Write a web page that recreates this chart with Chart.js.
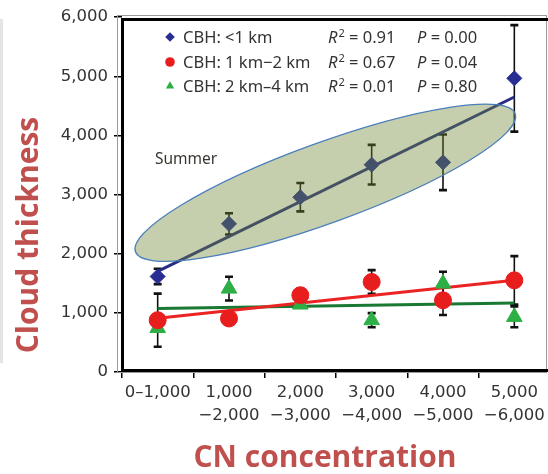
<!DOCTYPE html>
<html>
<head>
<meta charset="utf-8">
<script src="https://cdn.jsdelivr.net/npm/chart.js@4.4.1/dist/chart.umd.min.js"></script>
<style>
  html, body { margin: 0; padding: 0; background: #fff; overflow: hidden; }
  #wrap { width: 560px; height: 474px; }
</style>
</head>
<body>
<div id="wrap"><canvas id="thicknessChart"></canvas></div>
<script>
// CN concentration bins (x categories)
const cnBins = ["0–1,000", ["1,000", "−2,000"], ["2,000", "−3,000"], ["3,000", "−4,000"], ["4,000", "−5,000"], ["5,000", "−6,000"]];
const thicknessTicks = [0, 1000, 2000, 3000, 4000, 5000, 6000];

// cloud thickness per cloud-base-height class, with error bar half widths
const cbhLow = [1615, 2505, 2955, 3505, 3545, 4965];
const cbhLowErr = [130, 180, 240, 335, 470, 900];
const cbhMid = [876, 905, 1298, 1522, 1213, 1550];
const cbhMidErr = [450, 80, 110, 200, 250, 410];
const cbhHigh = [745, 1410, 1140, 876, 1495, 932];
const cbhHighErr = [0, 200, 0, 120, 200, 175];

// regression line end points (first and last bin)
const cbhLowFit = [1700, 4650];
const cbhMidFit = [910, 1550];
const cbhHighFit = [1075, 1165];

// legend text
const cbhLabels = ["CBH: <1 km", "CBH: 1 km−2 km", "CBH: 2 km–4 km"];
const r2Values = ["0.91", "0.67", "0.01"];
const pValues = ["0.00", "0.04", "0.80"];

const textColor = "#333";
const titleColor = "#c0504d";
const tickFont = { family: "'DejaVu Sans'", size: 16.5, lineHeight: 1.35 };

function fitLine(ends) {
  const arr = cnBins.map(() => null);
  arr[0] = ends[0];
  arr[arr.length - 1] = ends[1];
  return arr;
}

// error bars under the markers
const errorBars = {
  id: "errorBars",
  beforeDatasetsDraw(chart) {
    const { ctx, scales: { x, y } } = chart;
    ctx.save();
    ctx.strokeStyle = "#111";
    chart.data.datasets.forEach((ds) => {
      if (!ds.errors) return;
      ds.data.forEach((v, i) => {
        const e = ds.errors[i];
        if (!e) return;
        const px = x.getPixelForValue(i);
        const top = y.getPixelForValue(v + e);
        const bot = y.getPixelForValue(v - e);
        ctx.lineWidth = 1.6;
        ctx.beginPath();
        ctx.moveTo(px, top);
        ctx.lineTo(px, bot);
        ctx.stroke();
        ctx.lineWidth = 2.6;
        ctx.beginPath();
        ctx.moveTo(px - 4, top);
        ctx.lineTo(px + 4, top);
        ctx.moveTo(px - 4, bot);
        ctx.lineTo(px + 4, bot);
        ctx.stroke();
      });
    });
    ctx.restore();
  },
};

// shaded ellipse round the summer points
const summerEllipse = {
  id: "summerEllipse",
  afterDatasetsDraw(chart, args, opts) {
    const { ctx, scales: { x, y } } = chart;
    const cx = x.getPixelForValue(opts.xValue);
    const cy = y.getPixelForValue(opts.yValue);
    ctx.save();
    ctx.beginPath();
    ctx.ellipse(cx, cy, opts.rx, opts.ry, (opts.angle * Math.PI) / 180, 0, Math.PI * 2);
    ctx.fillStyle = "rgba(110, 135, 50, 0.4)";
    ctx.fill();
    ctx.lineWidth = 1.3;
    ctx.strokeStyle = "#4a7ebb";
    ctx.stroke();
    ctx.restore();
  },
};

// frame, legend and axis titles
const decorations = {
  id: "decorations",
  afterDraw(chart) {
    const { ctx, chartArea: area } = chart;
    ctx.save();

    // soft edge of the panel on the far left
    ctx.strokeStyle = "rgba(0, 0, 0, 0.1)";
    ctx.lineWidth = 3;
    ctx.lineCap = "round";
    ctx.beginPath();
    ctx.moveTo(1.5, 20);
    ctx.lineTo(1.5, 362);
    ctx.stroke();
    ctx.lineCap = "butt";

    // thin outer frame
    ctx.strokeStyle = "#9a9a9a";
    ctx.lineWidth = 1;
    ctx.strokeRect(117.5, 15.5, 429, area.bottom - 15);

    // heavy plot box
    ctx.strokeStyle = "#000";
    ctx.lineWidth = 3;
    ctx.strokeRect(area.left + 0.5, 19.5, area.right + 10 - area.left, 351);

    // legend
    const rowsY = [43, 68, 92];
    const sets = chart.data.datasets.slice(0, 3);
    sets.forEach((ds, i) => {
      ctx.fillStyle = ds.backgroundColor;
      ctx.strokeStyle = ds.backgroundColor;
      Chart.helpers.drawPoint(ctx, { pointStyle: ds.pointStyle, radius: 4.8, rotation: 0, borderWidth: 0 }, 170, rowsY[i] - 6);
      ctx.fillStyle = textColor;
      ctx.textBaseline = "alphabetic";
      ctx.textAlign = "left";
      ctx.font = "16.5px 'Noto Sans'";
      ctx.fillText(cbhLabels[i], 183, rowsY[i]);

      let px = 328;
      ctx.font = "italic 16.5px 'Noto Sans'";
      ctx.fillText("R", px, rowsY[i]);
      px += ctx.measureText("R").width + 1;
      ctx.font = "11px 'Noto Sans'";
      ctx.fillText("2", px, rowsY[i] - 6);
      px += ctx.measureText("2").width;
      ctx.font = "16.5px 'Noto Sans'";
      ctx.fillText(" = " + r2Values[i], px, rowsY[i]);

      px = 417;
      ctx.font = "italic 16.5px 'Noto Sans'";
      ctx.fillText("P", px, rowsY[i]);
      px += ctx.measureText("P").width;
      ctx.font = "16.5px 'Noto Sans'";
      ctx.fillText(" = " + pValues[i], px, rowsY[i]);
    });

    ctx.font = "15.5px 'Noto Sans'";
    ctx.fillStyle = "#3a3530";
    ctx.fillText("Summer", 155, 164);

    // axis titles
    ctx.fillStyle = titleColor;
    ctx.font = "bold 30px 'Open Sans'";
    ctx.textAlign = "center";
    ctx.fillText("CN concentration", 325, 467);
    ctx.translate(38, 235);
    ctx.rotate(-Math.PI / 2);
    ctx.fillText("Cloud thickness", 0, 0);
    ctx.restore();
  },
};

var ctx = document.getElementById("thicknessChart").getContext("2d");
var thicknessChart = new Chart(ctx, {
  type: "line",
  data: {
    labels: cnBins,
    datasets: [
      {
        label: cbhLabels[0],
        data: cbhLow,
        errors: cbhLowErr,
        showLine: false,
        pointStyle: "rectRot",
        pointRadius: 7.5,
        backgroundColor: "rgb(40, 45, 145)",
        borderColor: "rgb(40, 45, 145)",
        order: 0,
      },
      {
        label: cbhLabels[1],
        data: cbhMid,
        errors: cbhMidErr,
        showLine: false,
        pointStyle: "circle",
        pointRadius: 8.5,
        backgroundColor: "rgb(232, 30, 30)",
        borderColor: "rgb(232, 30, 30)",
        order: 0,
      },
      {
        label: cbhLabels[2],
        data: cbhHigh,
        errors: cbhHighErr,
        showLine: false,
        pointStyle: "triangle",
        pointRadius: 9,
        backgroundColor: "rgb(45, 175, 70)",
        borderColor: "rgb(45, 175, 70)",
        order: 0,
      },
      {
        label: "fit <1 km",
        data: fitLine(cbhLowFit),
        spanGaps: true,
        pointRadius: 0,
        borderWidth: 3,
        borderColor: "rgb(40, 45, 130)",
        order: 1,
      },
      {
        label: "fit 1-2 km",
        data: fitLine(cbhMidFit),
        spanGaps: true,
        pointRadius: 0,
        borderWidth: 3,
        borderColor: "rgb(235, 35, 35)",
        order: 1,
      },
      {
        label: "fit 2-4 km",
        data: fitLine(cbhHighFit),
        spanGaps: true,
        pointRadius: 0,
        borderWidth: 3,
        borderColor: "rgb(25, 120, 50)",
        order: 1,
      },
    ],
  },
  options: {
    responsive: true,
    maintainAspectRatio: false,
    animation: false,
    layout: { padding: { top: 16, right: 6, left: 0, bottom: 0 } },
    plugins: {
      legend: { display: false },
      tooltip: { enabled: false },
      summerEllipse: { xValue: 2.35, yValue: 3200, rx: 202, ry: 40, angle: -20 },
    },
    scales: {
      x: {
        offset: true,
        grid: { offset: true, drawOnChartArea: false, tickLength: 6, color: "#000", lineWidth: 1.5 },
        border: { display: false },
        ticks: { color: textColor, font: tickFont, padding: 4, maxRotation: 0, autoSkip: false },
        afterFit: (scale) => { scale.height = 102; },
      },
      y: {
        min: 0,
        max: 6000,
        afterBuildTicks: (scale) => { scale.ticks = thicknessTicks.map((v) => ({ value: v })); },
        grid: { drawOnChartArea: false, tickLength: 8, color: "#000", lineWidth: 1.5 },
        border: { display: false },
        ticks: {
          color: textColor,
          font: tickFont,
          padding: 6,
          callback: (v) => v.toLocaleString("en-US"),
        },
        afterFit: (scale) => { scale.width = 122; },
      },
    },
  },
  plugins: [errorBars, summerEllipse, decorations],
});
</script>
</body>
</html>
